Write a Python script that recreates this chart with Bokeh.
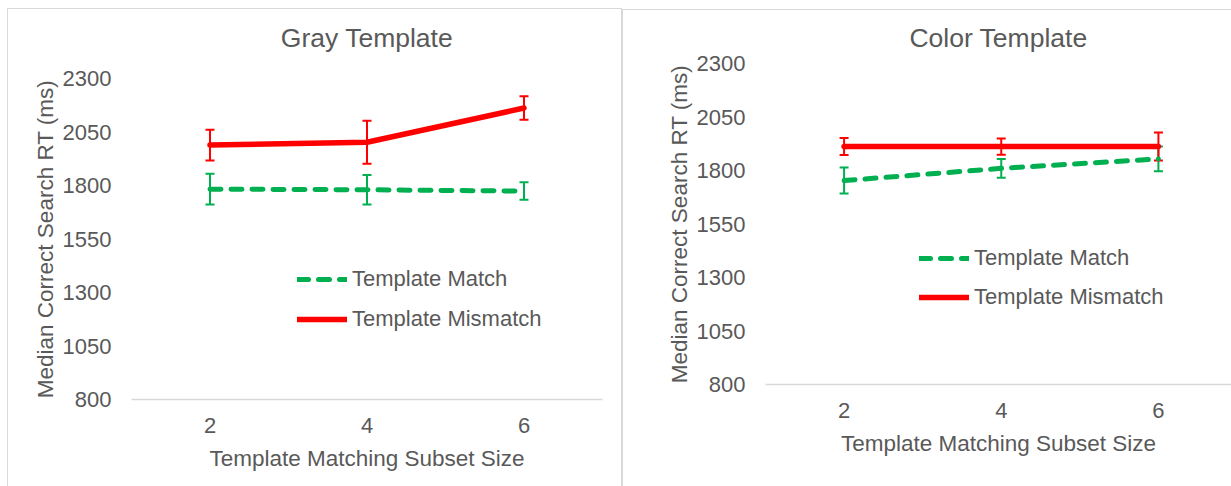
from bokeh.plotting import figure
from bokeh.models import (ColumnDataSource, Whisker, TeeHead, Legend, LegendItem, FixedTicker,
                          Range1d, Spacer, LinearAxis)
from bokeh.layouts import row, column
from bokeh.embed import file_html
from bokeh.resources import INLINE

# ---------------- data ----------------
subset_sizes = [2, 4, 6]
y_ticks = [800, 1050, 1300, 1550, 1800, 2050, 2300]

gray_match = [1783, 1780, 1774]
gray_match_err = [72, 69, 41]
gray_mismatch = [1989, 2002, 2162]
gray_mismatch_err = [72, 100, 55]

color_match = [1753, 1810, 1854]
color_match_err = [61, 44, 58]
color_mismatch = [1912, 1912, 1912]
color_mismatch_err = [40, 38, 65]

series_names = ["Template Match", "Template Mismatch"]
titles = ["Gray Template", "Color Template"]
x_label = "Template Matching Subset Size"
y_label = "Median Correct Search RT (ms)"

FONT = "Liberation Sans"
TXT = "#595959"
GREEN = "#00B050"
RED = "#FF0000"
GRID = "#D9D9D9"


def make_panel(title, match, match_err, mismatch, mismatch_err, width, height, x_end,
               mb_left, mb_top, mb_bottom, mb_right, legend_loc, legend_spacing,
               title_standoff, shadow):
    p = figure(width=width, height=height, x_range=Range1d(1, x_end), y_range=Range1d(800, 2300),
               output_backend="svg", toolbar_location=None, title=None,
               min_border_left=mb_left, min_border_top=mb_top,
               min_border_bottom=mb_bottom, min_border_right=mb_right,
               styles={"box-shadow": shadow})
    p.background_fill_color = None
    p.border_fill_color = None
    p.outline_line_color = None
    p.grid.visible = False

    # chart title, drawn as the label of a bare axis above the plot area
    t_axis = LinearAxis(ticker=FixedTicker(ticks=[], minor_ticks=[]), axis_label=title,
                        axis_line_color=None, major_tick_line_color=None,
                        minor_tick_line_color=None, major_tick_in=0, major_tick_out=0,
                        major_label_standoff=0,
                        axis_label_standoff=title_standoff,
                        axis_label_text_font=FONT, axis_label_text_font_size="26.5px",
                        axis_label_text_font_style="normal", axis_label_text_color=TXT)
    p.add_layout(t_axis, "above")

    # axes
    xa = p.below[0]
    ya = p.left[0]
    for ax in (xa, ya):
        ax.major_tick_line_color = None
        ax.minor_tick_line_color = None
        ax.major_tick_in = 0
        ax.major_tick_out = 0
        ax.major_label_text_font = FONT
        ax.major_label_text_font_size = "22px"
        ax.major_label_text_color = TXT
        ax.axis_label_text_font = FONT
        ax.axis_label_text_font_size = "22.5px"
        ax.axis_label_text_font_style = "normal"
        ax.axis_label_text_color = TXT
    xa.ticker = FixedTicker(ticks=subset_sizes)
    ya.ticker = FixedTicker(ticks=y_ticks)
    xa.axis_label = x_label
    ya.axis_label = y_label
    xa.axis_line_color = GRID
    xa.axis_line_width = 1.5
    ya.axis_line_color = None
    xa.major_label_standoff = 18
    xa.axis_label_standoff = 10
    ya.major_label_standoff = 20
    ya.axis_label_standoff = 2

    src_m = ColumnDataSource(dict(x=subset_sizes, y=match,
                                  lo=[v - e for v, e in zip(match, match_err)],
                                  hi=[v + e for v, e in zip(match, match_err)]))
    src_mm = ColumnDataSource(dict(x=subset_sizes, y=mismatch,
                                   lo=[v - e for v, e in zip(mismatch, mismatch_err)],
                                   hi=[v + e for v, e in zip(mismatch, mismatch_err)]))

    r_match = p.line("x", "y", source=src_m, line_color=GREEN, line_width=5,
                     line_dash="11 10", line_cap="round")
    p.add_layout(Whisker(source=src_m, base="x", upper="hi", lower="lo", dimension="height",
                         line_color=GREEN, line_width=2,
                         upper_head=TeeHead(size=9, line_color=GREEN, line_width=2),
                         lower_head=TeeHead(size=9, line_color=GREEN, line_width=2)))
    r_mis = p.line("x", "y", source=src_mm, line_color=RED, line_width=5.5, line_cap="round")
    p.add_layout(Whisker(source=src_mm, base="x", upper="hi", lower="lo", dimension="height",
                         line_color=RED, line_width=2,
                         upper_head=TeeHead(size=9, line_color=RED, line_width=2),
                         lower_head=TeeHead(size=9, line_color=RED, line_width=2)))

    legend = Legend(items=[LegendItem(label=series_names[0], renderers=[r_match]),
                           LegendItem(label=series_names[1], renderers=[r_mis])],
                    location=legend_loc, orientation="vertical",
                    glyph_width=50, glyph_height=30, label_height=30,
                    label_standoff=5, spacing=legend_spacing, padding=0, margin=0,
                    border_line_color=None, background_fill_alpha=0,
                    label_text_font=FONT, label_text_font_size="22px", label_text_color=TXT)
    p.add_layout(legend, "center")
    return p


left = make_panel(titles[0], gray_match, gray_match_err, gray_mismatch, gray_mismatch_err,
                  width=615, height=478, x_end=7, mb_left=124, mb_top=70, mb_bottom=87, mb_right=20,
                  legend_loc=(166, 65), legend_spacing=10, title_standoff=26,
                  shadow="inset 1px 1px 0 #D9D9D9, inset -1px 0 0 #D9D9D9")
right = make_panel(titles[1], color_match, color_match_err, color_mismatch, color_mismatch_err,
                   width=609, height=477, x_end=6.93, mb_left=143, mb_top=54, mb_bottom=102, mb_right=0,
                   legend_loc=(154, 72), legend_spacing=9, title_standoff=11,
                   shadow="inset 1px 1px 0 #D9D9D9")

layout = row(Spacer(width=7, height=486),
             column(Spacer(width=615, height=8), left, spacing=0),
             column(Spacer(width=609, height=9), right, spacing=0),
             spacing=0)
open("out.html", "w").write(file_html(layout, INLINE))
